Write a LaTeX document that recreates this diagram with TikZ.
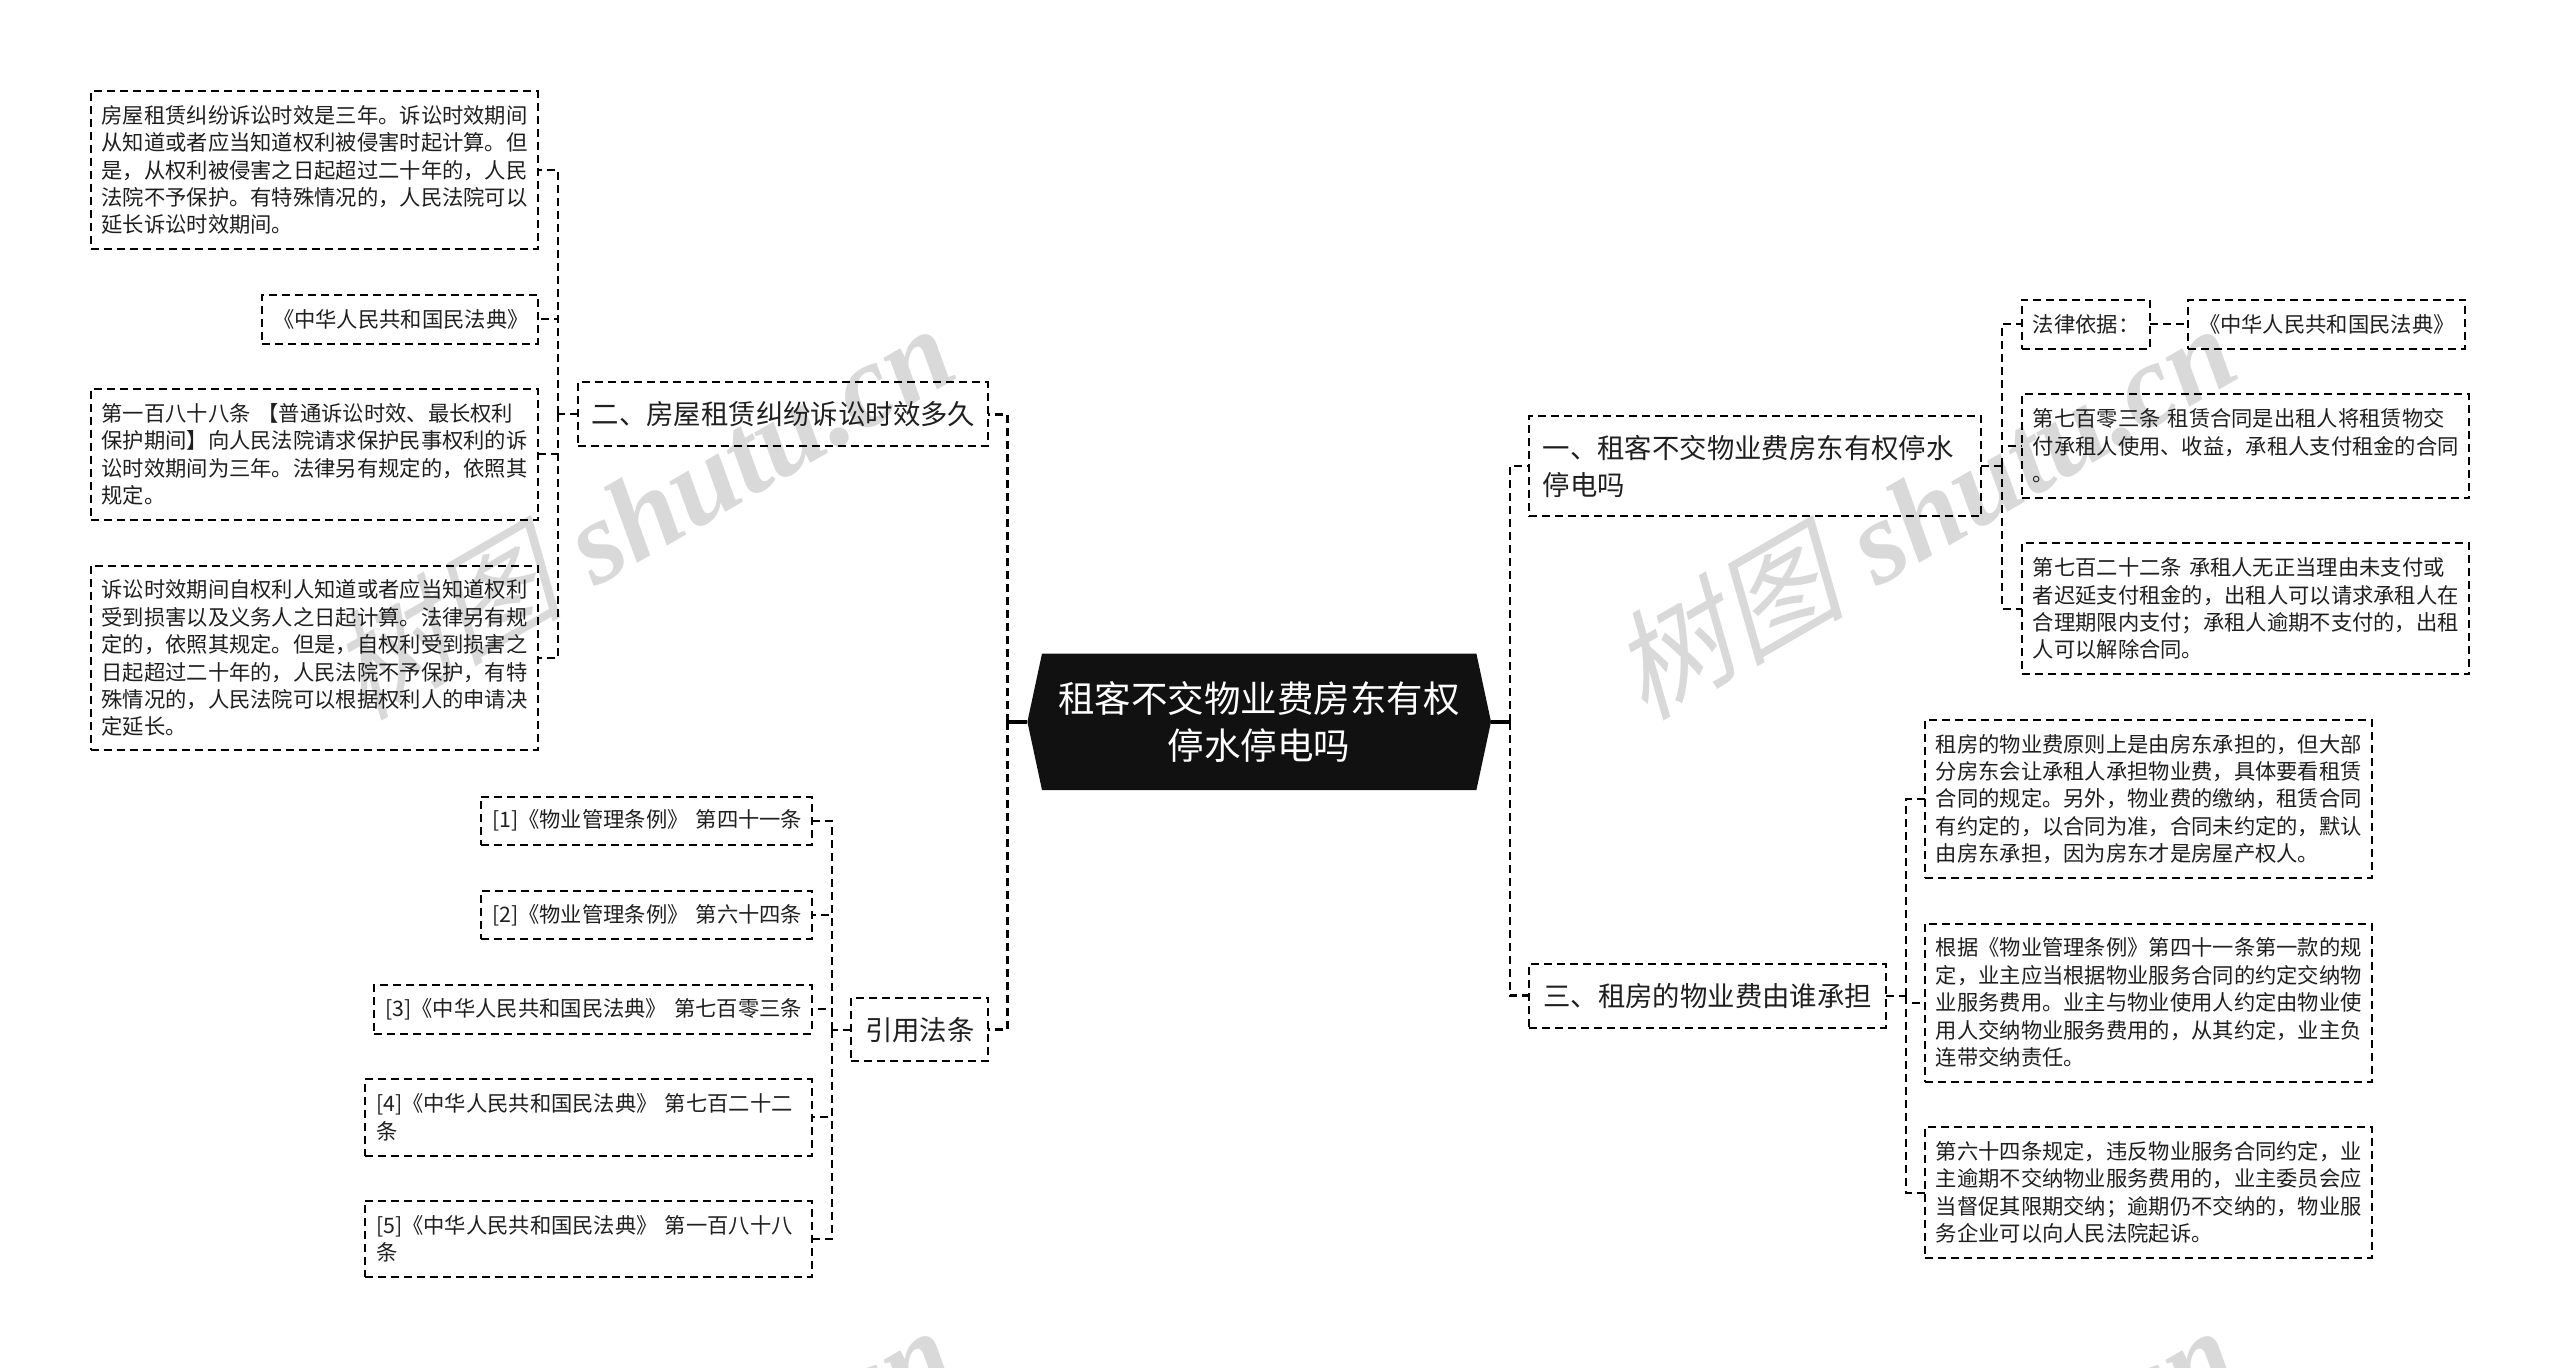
\documentclass[tikz,border=0pt]{standalone}
\usepackage{fontspec}
\setmainfont{Noto Sans CJK SC}
\newfontfamily\wmcjk[FakeSlant=0.25]{Noto Sans CJK SC}
\newfontfamily\wmlat{Liberation Serif}
\definecolor{ink}{HTML}{1F1F1F}
\definecolor{mainfill}{HTML}{111111}
\definecolor{wm}{HTML}{D9D9D9}
\tikzset{
  boxbase/.style={draw=black,line width=2pt,dash pattern=on 8pt off 5pt,outer sep=0pt,text=ink,align=left},
  leaf/.style={boxbase,font=\fontsize{21.3pt}{27.4pt}\selectfont,inner xsep=11pt,inner ysep=0pt},
  topic/.style={boxbase,font=\fontsize{27.4pt}{37.5pt}\selectfont,inner xsep=14pt,inner ysep=0pt},
  br/.style={line width=2pt,dash pattern=on 8pt off 5pt},
  brmain/.style={line width=3pt,dash pattern=on 8pt off 5pt},
  brmainr/.style={line width=2.4pt,dash pattern=on 8pt off 5pt},
  stub/.style={line width=3.5pt},
  wmark/.style={text=wm,inner sep=0pt,rotate=30,anchor=center},
}
\newcommand{\wmtext}{{\wmcjk 树图}\hspace{0.28em}{\wmlat\itshape\bfseries shutu.cn}}
\begin{document}
\begin{tikzpicture}[x=1pt,y=-1pt]
\useasboundingbox (0,0) rectangle (2560,1368);
\clip (0,0) rectangle (2560,1368);
\fill[white] (0,0) rectangle (2560,1368);
% watermark
\tikzset{wmfont/.style={font=\fontsize{118pt}{118pt}\selectfont}}
\node[wmark,wmfont] (w1) at (640,510) {\wmtext};
\node[wmark,wmfont] (w2) at (1922,510) {\wmtext};
\node[wmark,wmfont] (w3) at (640,1512) {\wmtext};
\node[wmark,wmfont] (w4) at (1922,1512) {\wmtext};
% central node
\node[text=white,align=center,inner sep=0pt,minimum width=463.6pt,minimum height=136.4pt,outer sep=0pt,font=\fontsize{36.5pt}{46.5pt}\selectfont] (main) at (1259.2,721.8) {};
\fill[mainfill] (main.west) -- ([xshift=14.6pt]main.north west) -- ([xshift=-14.6pt]main.north east) -- (main.east) -- ([xshift=-14.6pt]main.south east) -- ([xshift=14.6pt]main.south west) -- cycle;
\node[text=white,align=center,inner sep=0pt,font=\fontsize{36.5pt}{46.5pt}\selectfont] (maintext) at (main.center) {租客不交物业费房东有权\\停水停电吗};
% topics
\node[topic,minimum width=410pt,minimum height=63.4pt,text width=382pt] (n2) at (782.6,414) {二、房屋租赁纠纷诉讼时效多久};
\node[topic,minimum width=137pt,minimum height=63.5pt,text width=109pt] (yin) at (919.5,1029.7) {引用法条};
\node[topic,minimum width=452.3pt,minimum height=100.4pt,text width=424.3pt] (n1) at (1754.9,466.2) {一、租客不交物业费房东有权停水\\停电吗};
\node[topic,minimum width=356.2pt,minimum height=63.9pt,text width=328.2pt] (n3) at (1707.4,995.6) {三、租房的物业费由谁承担};
% leaves left top
\node[leaf,minimum width=447pt,minimum height=157.5pt,text width=425pt] (a) at (314,170) {房屋租赁纠纷诉讼时效是三年。诉讼时效期间\\从知道或者应当知道权利被侵害时起计算。但\\是，从权利被侵害之日起超过二十年的，人民\\法院不予保护。有特殊情况的，人民法院可以\\延长诉讼时效期间。};
\node[leaf,minimum width=275.6pt,minimum height=48.7pt,text width=253.6pt] (b) at (399.8,319.4) {《中华人民共和国民法典》};
\node[leaf,minimum width=447pt,minimum height=131pt,text width=425pt] (c) at (314,454.2) {第一百八十八条 【普通诉讼时效、最长权利\\保护期间】向人民法院请求保护民事权利的诉\\讼时效期间为三年。法律另有规定的，依照其\\规定。};
\node[leaf,minimum width=447pt,minimum height=184.5pt,text width=425pt] (d) at (314,658.2) {诉讼时效期间自权利人知道或者应当知道权利\\受到损害以及义务人之日起计算。法律另有规\\定的，依照其规定。但是，自权利受到损害之\\日起超过二十年的，人民法院不予保护，有特\\殊情况的，人民法院可以根据权利人的申请决\\定延长。};
% leaves left bottom
\node[leaf,minimum width=331pt,minimum height=48.2pt,text width=309pt] (r1) at (646.5,820.6) {\makebox[309pt][l]{[1]《物业管理条例》 第四十一条}};
\node[leaf,minimum width=331pt,minimum height=48.6pt,text width=309pt] (r2) at (646.5,914.9) {\makebox[309pt][l]{[2]《物业管理条例》 第六十四条}};
\node[leaf,minimum width=437.6pt,minimum height=48.8pt,text width=415.6pt] (r3) at (593.2,1009.4) {\makebox[415.6pt][l]{[3]《中华人民共和国民法典》 第七百零三条}};
\node[leaf,minimum width=447pt,minimum height=76.3pt,text width=425pt] (r4) at (588.5,1117.4) {[4]《中华人民共和国民法典》 第七百二十二\\条};
\node[leaf,minimum width=447pt,minimum height=76.3pt,text width=425pt] (r5) at (588.5,1238.9) {[5]《中华人民共和国民法典》 第一百八十八\\条};
% leaves right top
\node[leaf,minimum width=128pt,minimum height=49.3pt,text width=106pt] (law) at (2085.8,324.3) {法律依据：};
\node[leaf,minimum width=277.4pt,minimum height=49.3pt,text width=255.4pt] (code) at (2326.7,324.3) {《中华人民共和国民法典》};
\node[leaf,minimum width=447.6pt,minimum height=104pt,text width=425.6pt] (s703) at (2245.6,446) {第七百零三条 租赁合同是出租人将租赁物交\\付承租人使用、收益，承租人支付租金的合同\\。};
\node[leaf,minimum width=447.6pt,minimum height=130.7pt,text width=425.6pt] (s722) at (2245.6,608.7) {第七百二十二条 承租人无正当理由未支付或\\者迟延支付租金的，出租人可以请求承租人在\\合理期限内支付；承租人逾期不支付的，出租\\人可以解除合同。};
% leaves right bottom
\node[leaf,minimum width=447.2pt,minimum height=158pt,text width=425.2pt] (t1) at (2148.4,799) {租房的物业费原则上是由房东承担的，但大部\\分房东会让承租人承担物业费，具体要看租赁\\合同的规定。另外，物业费的缴纳，租赁合同\\有约定的，以合同为准，合同未约定的，默认\\由房东承担，因为房东才是房屋产权人。};
\node[leaf,minimum width=447.2pt,minimum height=158pt,text width=425.2pt] (t2) at (2148.4,1002.5) {根据《物业管理条例》第四十一条第一款的规\\定，业主应当根据物业服务合同的约定交纳物\\业服务费用。业主与物业使用人约定由物业使\\用人交纳物业服务费用的，从其约定，业主负\\连带交纳责任。};
\node[leaf,minimum width=447.2pt,minimum height=131pt,text width=425.2pt] (t3) at (2148.4,1192.5) {第六十四条规定，违反物业服务合同约定，业\\主逾期不交纳物业服务费用的，业主委员会应\\当督促其限期交纳；逾期仍不交纳的，物业服\\务企业可以向人民法院起诉。};
% junctions
\coordinate (jl) at (1007.5,721.8);
\coordinate (jr) at (1509.7,721.8);
\coordinate (j2) at (558,414);
\coordinate (jy) at (831.5,1029.7);
\coordinate (j1) at (2002,466.2);
\coordinate (j3) at (1905.5,995.6);
% connectors
\draw[stub] (main.west) -- (jl);
\draw[stub] (main.east) -- (jr);
\draw[brmain] (jl) |- (n2.east);
\draw[brmain] (jl) |- (yin.east);
\draw[brmainr] (jr) |- (n1.west);
\draw[brmainr] (jr) |- (n3.west);
\draw[br] (n2.west) -- (j2);
\draw[br] (j2) |- (a.east);
\draw[br] (j2) |- (b.east);
\draw[br] (j2) |- (c.east);
\draw[br] (j2) |- (d.east);
\draw[br] (yin.west) -- (jy);
\draw[br] (jy) |- (r1.east);
\draw[br] (jy) |- (r2.east);
\draw[br] (jy) |- (r3.east);
\draw[br] (jy) |- (r4.east);
\draw[br] (jy) |- (r5.east);
\draw[br] (n1.east) -- (j1);
\draw[br] (j1) |- (law.west);
\draw[br] (j1) |- (s703.west);
\draw[br] (j1) |- (s722.west);
\draw[br] (law.east) -- (code.west);
\draw[br] (n3.east) -- (j3);
\draw[br] (j3) |- (t1.west);
\draw[br] (j3) |- (t2.west);
\draw[br] (j3) |- (t3.west);
\end{tikzpicture}
\end{document}
